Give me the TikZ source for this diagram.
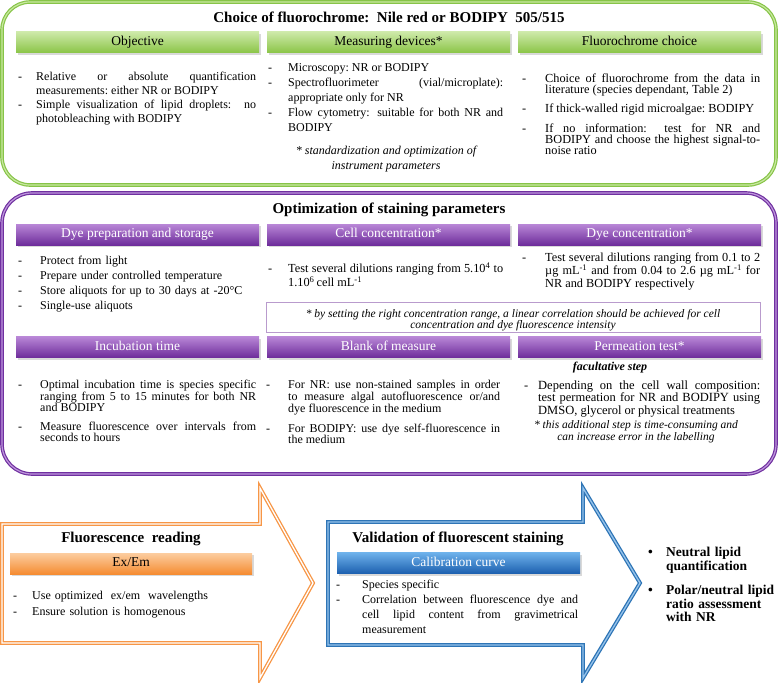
\documentclass[tikz,border=0pt]{standalone}
\usepackage{fontspec}
\setmainfont{Liberation Serif}
\usetikzlibrary{shadows}

\definecolor{gline}{RGB}{135,196,72}
\definecolor{glight}{RGB}{200,232,160}
\definecolor{gtop}{RGB}{205,233,168}
\definecolor{gbot}{RGB}{138,196,70}
\definecolor{pline}{RGB}{112,48,160}
\definecolor{plight}{RGB}{190,150,220}
\definecolor{ptop}{RGB}{185,135,215}
\definecolor{pbot}{RGB}{110,45,155}
\definecolor{pnote}{RGB}{185,155,205}
\definecolor{oline}{RGB}{247,150,70}
\definecolor{otop}{RGB}{252,205,160}
\definecolor{obot}{RGB}{245,140,50}
\definecolor{bline}{RGB}{46,117,182}
\definecolor{blight}{RGB}{150,195,235}
\definecolor{btop}{RGB}{110,178,235}
\definecolor{bbot}{RGB}{28,95,175}

\hyphenpenalty=10000
\tolerance=2000
\newcommand{\tfont}[2]{\fontsize{#1}{#2}\selectfont\spaceskip=.25em plus .5em\relax}
\newcommand{\itm}[2][20pt]{\par\noindent\hangindent=#1\relax\hangafter=1\relax\makebox[#1][l]{-}#2\par}
\newcommand{\bul}[1]{\par\noindent\hangindent=18pt\relax\hangafter=1\relax\makebox[18pt][l]{\textbullet}#1\par}
\newcommand{\gap}[1]{\par\vspace{#1}}

\begin{document}
\begin{tikzpicture}[
            x=1pt, y=-1pt,
            every node/.style={inner sep=0pt},
            ttl/.style={font=\fontsize{15}{16}\selectfont\bfseries},
            bar/.style={minimum width=243pt, minimum height=21pt, text height=9.5pt, text depth=3pt,
                font=\fontsize{13.5}{14}\selectfont,
                drop shadow={shadow xshift=1.5pt, shadow yshift=-2pt, opacity=.3}},
            gbar/.style={bar, top color=gtop, bottom color=gbot},
            pbar/.style={bar, top color=ptop, bottom color=pbot, text=white},
            obar/.style={bar, minimum width=242pt, top color=otop, bottom color=obot},
            bbar/.style={bar, top color=btop, bottom color=bbot, text=white},
            txt/.style={anchor=north west, align=justify, font=\tfont{12}{14}},
            tight/.style={txt, font=\tfont{12.3}{11}},
            remark/.style={align=center, font=\fontsize{12}{15}\selectfont\itshape},
            frame/.style={line width=1.2pt, double distance=1.2pt, rounded corners=28pt},
            ]

        \useasboundingbox (0,0) rectangle (778,682);

        % choice of fluorochrome
        \draw[frame, draw=gline, double=glight] (2,2) rectangle (776,185);
        \node[ttl] (choice) at (389,17) {Choice of fluorochrome:\ \ Nile red or BODIPY\ \ 505/515};
        \node[gbar] (obj) at (137.5,42.5) {Objective};
        \node[gbar] (dev) at (388.5,42.5) {Measuring devices*};
        \node[gbar] (fluo) at (639.5,42.5) {Fluorochrome choice};
        \node[txt, text width=238pt] (objtxt) at (18,66.5) {\itm[18pt]{Relative or absolute quantification measurements:\ either NR or BODIPY}\itm[18pt]{Simple visualization of lipid droplets:\ \ no photobleaching\ with BODIPY}};
        \node[txt, text width=235pt, font=\tfont{12}{15}] (devtxt) at (268,56.5) {\itm{Microscopy:\ NR or BODIPY}\itm{Spectrofluorimeter (vial/microplate): appropriate only for NR}\itm{Flow cytometry: suitable for both NR and BODIPY}};
        \node[remark] (devnote) at (386,159.5) {* standardization and optimization of\\instrument parameters};
        \node[tight, text width=238pt] (fluotxt) at (522,71) {\itm[23pt]{Choice of fluorochrome from the data in literature (species dependant, Table 2)}\gap{7.5pt}\itm[23pt]{If thick-walled rigid microalgae:\ BODIPY}\gap{7.5pt}\itm[23pt]{If no information: test for NR and BODIPY and choose the highest \mbox{signal-to}-noise ratio}};

        % optimization of staining
        \draw[frame, draw=pline, double=plight, rounded corners=30pt] (2,193) rectangle (776,474);
        \node[ttl] (optim) at (389,210) {Optimization\ of\ staining parameters};
        \node[pbar] (prep) at (137.5,234.5) {Dye preparation and storage};
        \node[pbar] (cell) at (388.5,234.5) {Cell concentration*};
        \node[pbar] (dye) at (639.5,234.5) {Dye concentration*};
        \node[txt, text width=238pt, align=left, font=\tfont{12}{15}] (preptxt) at (18,249.5) {\itm[22pt]{Protect from light}\itm[22pt]{Prepare under controlled\ temperature}\itm[22pt]{Store aliquots\ for up to 30 days at -20°C}\itm[22pt]{Single-use\ aliquots}};
        \node[tight, text width=235pt, font=\tfont{12.3}{12}] (celltxt) at (268,260.5) {\itm{Test several dilutions ranging from 5.10\textsuperscript{4} to 1.10\textsuperscript{6}\,cell\ mL\textsuperscript{-1}}};
        \node[tight, text width=238pt] (dyetxt) at (522,250) {\itm[23pt]{Test several dilutions ranging from 0.1 to 2 µg\ mL\textsuperscript{-1} and from 0.04 to 2.6 µg mL\textsuperscript{-1} for NR and BODIPY respectively}};
        \node[draw=pnote, line width=.8pt, minimum width=494pt, minimum height=30pt] (concbox) at (513,317) {};
        \node[remark, font=\fontsize{11.5}{11.5}\selectfont\itshape] (concnote) at (513,320) {* by setting the right concentration range, a linear correlation should be achieved for cell\\concentration and dye fluorescence intensity};
        \node[pbar] (incub) at (137.5,347) {Incubation time};
        \node[pbar] (blank) at (388.5,347) {Blank of measure};
        \node[pbar] (perm) at (639.5,347) {Permeation test*};
        \node[tight, text width=238pt, font=\tfont{12}{11}] (incubtxt) at (18,377.5) {\itm[22pt]{Optimal incubation time is species specific ranging from 5 to 15 minutes for both NR and BODIPY}\gap{8pt}\itm[22pt]{Measure fluorescence over intervals from seconds to hours}};
        \node[tight, text width=234pt, font=\tfont{12}{11}] (blanktxt) at (266,377.5) {\itm[22pt]{For NR: use non-stained samples in order to measure algal autofluorescence or/and dye fluorescence\ in the medium}\gap{8pt}\itm[22pt]{For BODIPY: use dye self-fluorescence in the medium}};
        \node[font=\fontsize{12}{12}\selectfont\bfseries\itshape] (facult) at (610,368) {facultative step};
        \node[tight, text width=236pt, font=\tfont{12.5}{12.5}] (permtxt) at (524,376.5) {\itm[14pt]{Depending on the cell wall composition: test permeation for NR and BODIPY using DMSO, glycerol\ or physical\ treatments}};
        \node[remark, font=\fontsize{11.5}{12}\selectfont\itshape] (permnote) at (636,431.5) {* this additional step is time-consuming and\\can increase error in the labelling};

        % reading and validation
        \draw[draw=oline, double=white, line width=1.3pt, double distance=1.3pt, line join=miter]
            (2,524) -- (260,524) -- (260,488) -- (313,583) -- (260,678) -- (260,643) -- (2,643) -- cycle;
        \draw[draw=bline, double=blight, line width=1.3pt, double distance=1.3pt, line join=miter]
            (328,522) -- (583,522) -- (583,488) -- (640,583) -- (583,678) -- (583,645) -- (328,645) -- cycle;
        \node[ttl] (read) at (131,539) {Fluorescence\ \ reading};
        \node[obar] (exem) at (131,563.5) {Ex/Em};
        \node[txt, text width=230pt, align=left, font=\tfont{12}{16}] (exemtxt) at (13,583.5) {\itm[19pt]{Use optimized\ \ ex/em\ \ wavelengths}\itm[19pt]{Ensure\ solution\ is homogenous}};
        \node[ttl] (valid) at (458,539) {Validation\ of fluorescent staining};
        \node[bbar] (calib) at (458.5,563) {Calibration\ curve};
        \node[tight, text width=242pt, font=\tfont{12}{15}] (calibtxt) at (336,573) {\itm[26pt]{Species specific}\itm[26pt]{Correlation between fluorescence dye and\linebreak cell lipid content from gravimetrical measurement}};
        \node[anchor=north west, text width=128pt, align=left, font=\fontsize{13.5}{13.5}\selectfont\bfseries] (result) at (648,543) {\bul{Neutral lipid quantification}\gap{11pt}\bul{Polar/neutral lipid ratio assessment with NR}};
    \end{tikzpicture}
\end{document}
